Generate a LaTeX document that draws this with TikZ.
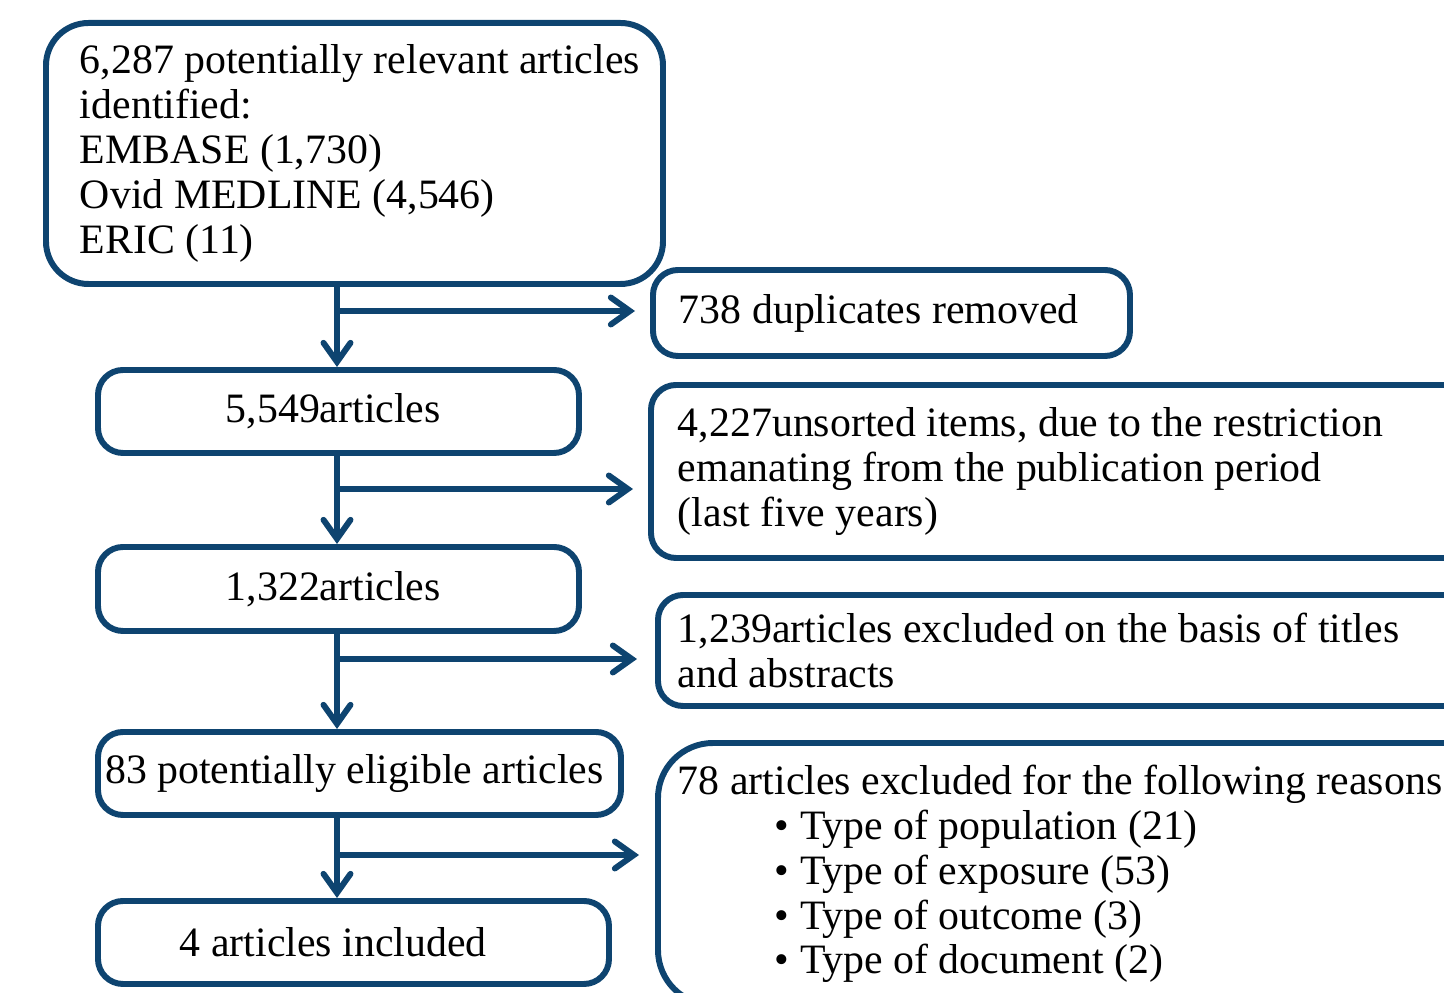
\documentclass[tikz,border=0pt]{standalone}
\usepackage{fontspec}
\setmainfont{Liberation Serif}
\usetikzlibrary{arrows.meta}

\definecolor{flowblue}{RGB}{14,68,112}

\tikzset{
  box/.style={draw=flowblue, line width=3.4pt, rounded corners=0.5cm,
    anchor=north west, font=\fontsize{23.8pt}{25.5pt}\selectfont},
  leftbox/.style={box, align=flush center, inner xsep=0.1cm},
  sidebox/.style={box, align=flush left, inner xsep=0.4cm},
  flow/.style={draw=flowblue, line width=3.4pt,
    -{Straight Barb[length=0.38cm,width=0.54cm,line cap=round]}}
}

\begin{document}
\begin{tikzpicture}
\useasboundingbox ( 0, 0 ) rectangle ( 28.88, -19.86 );
\clip ( 0, 0 ) rectangle ( 28.88, -19.86 );

% linke Spalte
\node[box, align=flush left, rounded corners=0.85cm, inner xsep=0.68cm,
  text width=10.98cm, minimum width=12.34cm, minimum height=5.22cm]
  (ident) at ( 0.86, -0.40 )
  { \mbox{6,287 potentially relevant articles}\\ identified:\\ EMBASE (1,730)\\
    Ovid MEDLINE (4,546)\\ ERIC (11) };
\node[leftbox, minimum width=9.62cm, minimum height=1.66cm]
  (screen) at ( 1.90, -7.34 ) { 5,549articles };
\node[leftbox, minimum width=9.62cm, minimum height=1.68cm]
  (titled) at ( 1.90, -10.88 ) { 1,322articles };
\node[leftbox, minimum width=10.46cm, minimum height=1.66cm]
  (eligible) at ( 1.90, -14.58 ) { 83 potentially eligible articles };
\node[leftbox, minimum width=10.22cm, minimum height=1.66cm]
  (incl) at ( 1.90, -17.96 ) { \hspace*{-0.6cm}4 articles included };

% rechte Spalte
\node[sidebox, inner xsep=0.52cm, text width=8.5cm,
  minimum width=9.54cm, minimum height=1.72cm]
  (dupl) at ( 13.00, -5.34 ) { 738 duplicates removed };
\node[sidebox, inner xsep=0.54cm, text width=15.92cm,
  minimum width=17.0cm, minimum height=3.46cm]
  (unsorted) at ( 12.96, -7.64 )
  { 4,227unsorted items, due to the restriction\\
    emanating from the publication period\\ (last five years) };
\node[sidebox, text width=16.2cm, minimum width=17.0cm, minimum height=2.22cm]
  (excl) at ( 13.10, -11.84 )
  { 1,239articles excluded on the basis of titles\\ and abstracts };
\node[sidebox, rounded corners=1.1cm, text width=16.2cm,
  minimum width=17.0cm, minimum height=5.24cm]
  (reasons) at ( 13.10, -14.80 )
  { 78 articles excluded for the following reasons\\
    \hspace*{1.94cm}• Type of population (21)\\
    \hspace*{1.94cm}• Type of exposure (53)\\
    \hspace*{1.94cm}• Type of outcome (3)\\
    \hspace*{1.94cm}• Type of document (2) };

% Abzweigungen
\coordinate (j1) at ( 6.74, -6.22 );
\coordinate (j2) at ( 6.74, -9.78 );
\coordinate (j3) at ( 6.74, -13.18 );
\coordinate (j4) at ( 6.74, -17.10 );

\draw[flow] (ident.south -| j1) -- (screen.north -| j1);
\draw[flow] (screen.south -| j2) -- (titled.north -| j2);
\draw[flow] (titled.south -| j3) -- (eligible.north -| j3);
\draw[flow] (eligible.south -| j4) -- (incl.north -| j4);

\draw[flow, shorten >=0.3cm] (j1) -- (j1 -| dupl.west);
\draw[flow, shorten >=0.3cm] (j2) -- (j2 -| unsorted.west);
\draw[flow, shorten >=0.36cm] (j3) -- (j3 -| excl.west);
\draw[flow, shorten >=0.32cm] (j4) -- (j4 -| reasons.west);

\end{tikzpicture}
\end{document}
